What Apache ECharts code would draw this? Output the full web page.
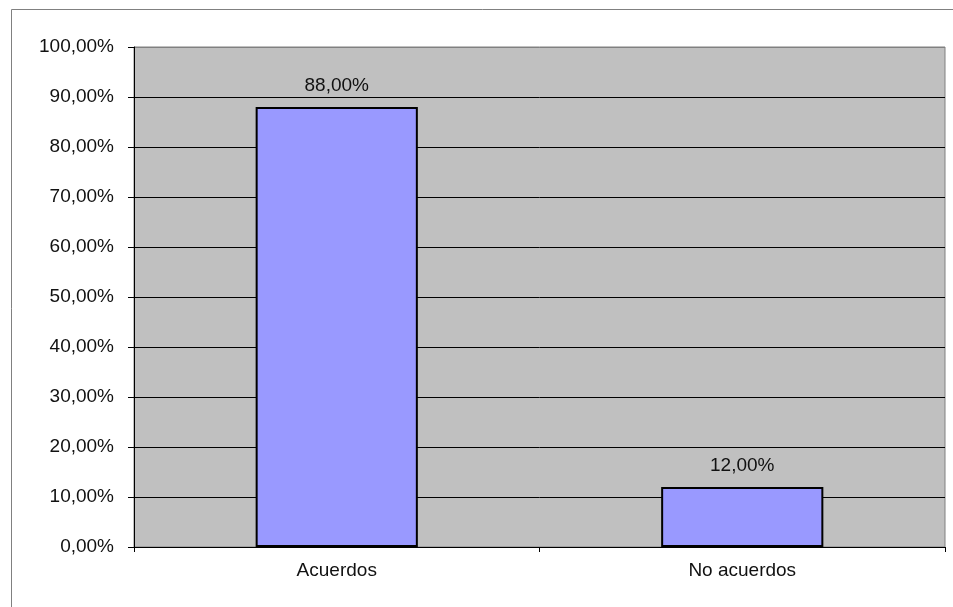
<!DOCTYPE html>
<html>
<head>
<meta charset="utf-8">
<title>Acuerdos</title>
<script src="https://cdn.jsdelivr.net/npm/echarts@6/dist/echarts.min.js"></script>
<style>
  html, body { margin: 0; padding: 0; background: #fff; }
  #chart { width: 953px; height: 607px; }
</style>
</head>
<body>
<div id="chart"></div>
<script>
// Categories and their shares (percent)
const categories = ['Acuerdos', 'No acuerdos'];
const values = [88, 12];
// Y axis ticks: 0 to 100, step 10
const yMin = 0;
const yMax = 100;
const yStep = 10;

const fmt = v => v.toFixed(2).replace('.', ',') + '%';

const FONT = '"Liberation Sans", Arial, sans-serif';
const TEXT = '#111111';

// Split lines are black except the top one, which is the plot border
const splitColors = [];
for (let v = yMin; v <= yMax; v += yStep) {
  splitColors.push(v === yMax ? '#808080' : '#000000');
}

const chart = echarts.init(document.getElementById('chart'), null, { renderer: 'canvas' });

chart.setOption({
  backgroundColor: '#ffffff',
  animation: false,
  graphic: [{
    type: 'rect',
    shape: { x: 11.5, y: 9.5, width: 1000, height: 700 },
    style: { fill: 'none', stroke: '#808080', lineWidth: 1 },
    silent: true,
    z: 0
  }],
  grid: {
    left: 134, top: 47, right: 8, bottom: 60,
    show: true,
    backgroundColor: '#C0C0C0',
    borderColor: '#808080',
    borderWidth: 1
  },
  xAxis: {
    type: 'category',
    data: categories,
    axisLine: { lineStyle: { color: '#000', width: 1 } },
    axisTick: { show: true, length: 5, lineStyle: { color: '#000' } },
    axisLabel: { color: TEXT, fontFamily: FONT, fontSize: 19, margin: 14 },
    splitLine: { show: false }
  },
  yAxis: {
    type: 'value',
    min: yMin, max: yMax, interval: yStep,
    axisLine: { show: true, lineStyle: { color: '#000', width: 1 } },
    axisTick: { show: true, length: 6, lineStyle: { color: '#000' } },
    axisLabel: { color: TEXT, fontFamily: FONT, fontSize: 19, margin: 20, formatter: fmt },
    splitLine: { show: true, lineStyle: { color: splitColors, width: 1 } }
  },
  series: [{
    type: 'bar',
    data: values,
    barWidth: '40%',
    itemStyle: { color: '#9999FF', borderColor: '#000', borderWidth: 2 },
    label: {
      show: true,
      position: 'top',
      distance: 12,
      color: TEXT,
      fontFamily: FONT,
      fontSize: 19,
      formatter: p => fmt(p.value)
    }
  }]
});
</script>
</body>
</html>
